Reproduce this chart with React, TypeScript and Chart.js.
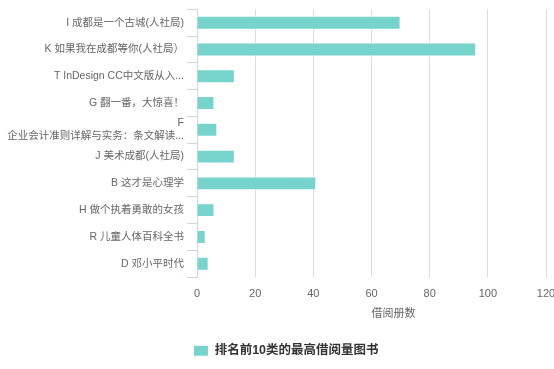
import React, { useEffect, useRef } from "react";
import { Chart, registerables } from "chart.js";

Chart.register(...registerables);

const categories: (string | string[])[] = [
  "I 成都是一个古城(人社局)",
  "K 如果我在成都等你(人社局）",
  "T InDesign CC中文版从入...",
  "G 翻一番，大惊喜！",
  ["F", "企业会计准则详解与实务：条文解读..."],
  "J 美术成都(人社局)",
  "B 这才是心理学",
  "H 做个执着勇敢的女孩",
  "R 儿童人体百科全书",
  "D 邓小平时代",
];
const borrowCounts = [70, 96, 13, 6, 7, 13, 41, 6, 3, 4];
const seriesName = "排名前10类的最高借阅量图书";
const xAxisTitle = "借阅册数";
const xMin = 0;
const xMax = 120;
const xStep = 20;

const FONT = "'Lucida Grande', 'Lucida Sans Unicode', Arial, Helvetica, 'Noto Sans CJK SC', sans-serif";

const layoutTweaksPlugin = {
  id: "layoutTweaks",
  afterLayout(chart: any) {
    const lg = chart.legend;
    if (lg) {
      lg.left += 13;
      lg.right += 13;
      lg.top += 2;
      lg.bottom += 2;
    }
  },
  afterDraw(chart: any) {
    const xs = chart.scales.x;
    const ctx = chart.ctx;
    ctx.save();
    ctx.font = `11px ${FONT}`;
    ctx.fillStyle = "#666666";
    ctx.textAlign = "center";
    ctx.textBaseline = "middle";
    ctx.fillText(xAxisTitle, (xs.left + xs.right) / 2 + 22, xs.top + 37);
    ctx.restore();
  },
};

export default function App() {
  const ref = useRef<HTMLCanvasElement | null>(null);
  useEffect(() => {
    document.body.style.margin = "0";
    document.body.style.overflow = "hidden";
    const chart = new Chart(ref.current!, {
      type: "bar",
      data: {
        labels: categories,
        datasets: [
          {
            label: seriesName,
            data: borrowCounts,
            backgroundColor: "#76d4cc",
            borderColor: "#ffffff",
            borderWidth: 1,
            categoryPercentage: 1,
            barPercentage: 0.52,
          },
        ],
      },
      options: {
        indexAxis: "y",
        animation: false,
        responsive: false,
        maintainAspectRatio: false,
        layout: { padding: { top: 8, right: 26, left: 0, bottom: 4 } },
        plugins: {
          tooltip: { enabled: false },
          legend: {
            position: "bottom",
            labels: {
              boxWidth: 15,
              boxHeight: 11,
              color: "#333333",
              font: { family: FONT, size: 12.5, weight: "bold" },
              padding: 10,
            },
          },
        },
        scales: {
          x: {
            type: "linear",
            min: xMin,
            max: xMax,
            ticks: {
              stepSize: xStep,
              color: "#666666",
              font: { family: FONT, size: 11 },
              padding: 10,
            },
            grid: { color: "#dcdcdc", drawTicks: false, lineWidth: 1 },
            border: { display: false },
            title: {
              display: true,
              text: xAxisTitle,
              color: "rgba(0,0,0,0)",
              font: { family: FONT, size: 11 },
              padding: { top: 5, bottom: 4 },
            },
          },
          y: {
            type: "category",
            afterFit(scale: any) {
              scale.width = 197;
            },
            ticks: {
              color: "#666666",
              font: { family: FONT, size: 10.5 },
              padding: 3,
              autoSkip: false,
            },
            grid: {
              offset: true,
              drawOnChartArea: false,
              color: "#ccd6eb",
              tickColor: "#ccd6eb",
              tickLength: 10,
            },
            border: { color: "#ccd6eb" },
          },
        },
      },
      plugins: [layoutTweaksPlugin],
    });
    return () => chart.destroy();
  }, []);
  return (
    <div style={{ width: 554, height: 369, overflow: "hidden", position: "relative" }}>
      <canvas ref={ref} width={572} height={369} style={{ position: "absolute", left: 0, top: 0 }} />
    </div>
  );
}
